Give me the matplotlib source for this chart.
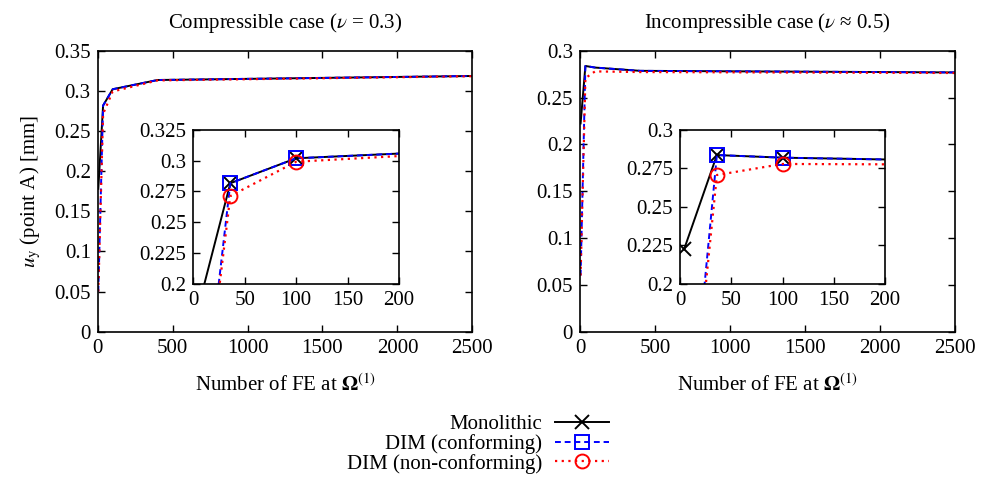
import matplotlib
matplotlib.use("Agg")
import matplotlib.pyplot as plt
from matplotlib.lines import Line2D

plt.rcParams['font.family'] = ['Liberation Serif', 'DejaVu Serif']
plt.rcParams['mathtext.fontset'] = 'stix'

# ---------------- data ----------------
n_fe = [4, 36, 100, 400, 2500]

comp_mono = [0.178, 0.2817, 0.302, 0.3135, 0.3185]
comp_conf = [0.050, 0.2817, 0.302, 0.3135, 0.3185]
comp_nonc = [0.050, 0.2713, 0.2992, 0.3130, 0.3182]

inc_mono = [0.2224, 0.2837, 0.2820, 0.2785, 0.2768]
inc_conf = [0.060, 0.2837, 0.2820, 0.2785, 0.2768]
inc_nonc = [0.060, 0.2707, 0.2779, 0.2772, 0.2762]

titles = [r"Compressible case ($\nu$ = 0.3)", r"Incompressible case ($\nu$ ≈ 0.5)"]
labels = ["Monolithic", "DIM (conforming)", "DIM (non-conforming)"]

main_xticks = [0, 500, 1000, 1500, 2000, 2500]
comp_yticks = [0, 0.05, 0.1, 0.15, 0.2, 0.25, 0.3, 0.35]
inc_yticks = [0, 0.05, 0.1, 0.15, 0.2, 0.25, 0.3]
inset_xticks = [0, 50, 100, 150, 200]
comp_inset_yticks = [0.2, 0.225, 0.25, 0.275, 0.3, 0.325]
inc_inset_yticks = [0.2, 0.225, 0.25, 0.275, 0.3]

# --------------------------------------
W, H = 992, 480
fig = plt.figure(figsize=(W / 100, H / 100), dpi=100)

def rect(x0, y0, x1, y1):
    return [x0 / W, 1 - y1 / H, (x1 - x0) / W, (y1 - y0) / H]

FS = 15
styles = [dict(color='black', ls='-', lw=1.4, marker='x', ms=10, mew=1.4),
          dict(color='#0000ff', ls=(0, (3, 2)), lw=1.4, marker='s', ms=10, mew=1.4, mfc='none'),
          dict(color='#ff0000', ls=(0, (1, 2)), lw=1.6, marker='o', ms=10, mew=1.4, mfc='none')]

def fmt(v):
    return ('%.3f' % v).rstrip('0').rstrip('.')

def style_ax(ax):
    ax.tick_params(direction='in', top=True, right=True, labelsize=FS, length=5, width=1.0, pad=5)
    for sp in ax.spines.values():
        sp.set_linewidth(1.2)

cases = [
    (titles[0], [comp_mono, comp_conf, comp_nonc], comp_yticks, 0.35, comp_inset_yticks, 0.325,
     (97.7, 50.7, 472.3, 331.7), (193.3, 130, 399, 283.7), True),
    (titles[1], [inc_mono, inc_conf, inc_nonc], inc_yticks, 0.3, inc_inset_yticks, 0.3,
     (580, 50.7, 955, 331.7), (680, 130, 885, 283.7), False),
]

for title, series, yt, ymax, iyt, iymax, mrect, irect, ylab in cases:
    ax = fig.add_axes(rect(*mrect))
    for ys, st in zip(series, styles):
        s = dict(st)
        s.pop('marker'); s.pop('ms'); s.pop('mew'); s.pop('mfc', None)
        ax.plot(n_fe, ys, **s)
    ax.set_xlim(0, 2500)
    ax.set_ylim(0, ymax)
    ax.set_xticks(main_xticks)
    ax.set_xticklabels([str(v) for v in main_xticks])
    ax.set_yticks(yt)
    ax.set_yticklabels([fmt(v) for v in yt])
    style_ax(ax)
    ax.set_title(title, fontsize=FS, pad=16)
    ax.set_xlabel(r"Number of FE at $\mathbf{\Omega}^{(1)}$", fontsize=FS, labelpad=12)
    if ylab:
        ax.set_ylabel(r"$u_{\mathrm{y}}$ (point A) [mm]", fontsize=FS, labelpad=8)

    ia = fig.add_axes(rect(*irect))
    for ys, st in zip(series, styles):
        ia.plot(n_fe, ys, **st)
    ia.set_xlim(0, 200)
    ia.set_ylim(0.2, iymax)
    ia.set_xticks(inset_xticks)
    ia.set_xticklabels([str(v) for v in inset_xticks])
    ia.set_yticks(iyt)
    ia.set_yticklabels([fmt(v) for v in iyt])
    style_ax(ia)

handles = [Line2D([], [], **st) for st in styles]
fig.legend(handles, labels, loc='center', bbox_to_anchor=(478 / W, 1 - 444 / H),
           markerfirst=False, frameon=False, fontsize=FS, handlelength=2.6,
           labelspacing=0.0, handletextpad=0.6, borderaxespad=0, borderpad=0)

fig.savefig("out.png", dpi=100)
